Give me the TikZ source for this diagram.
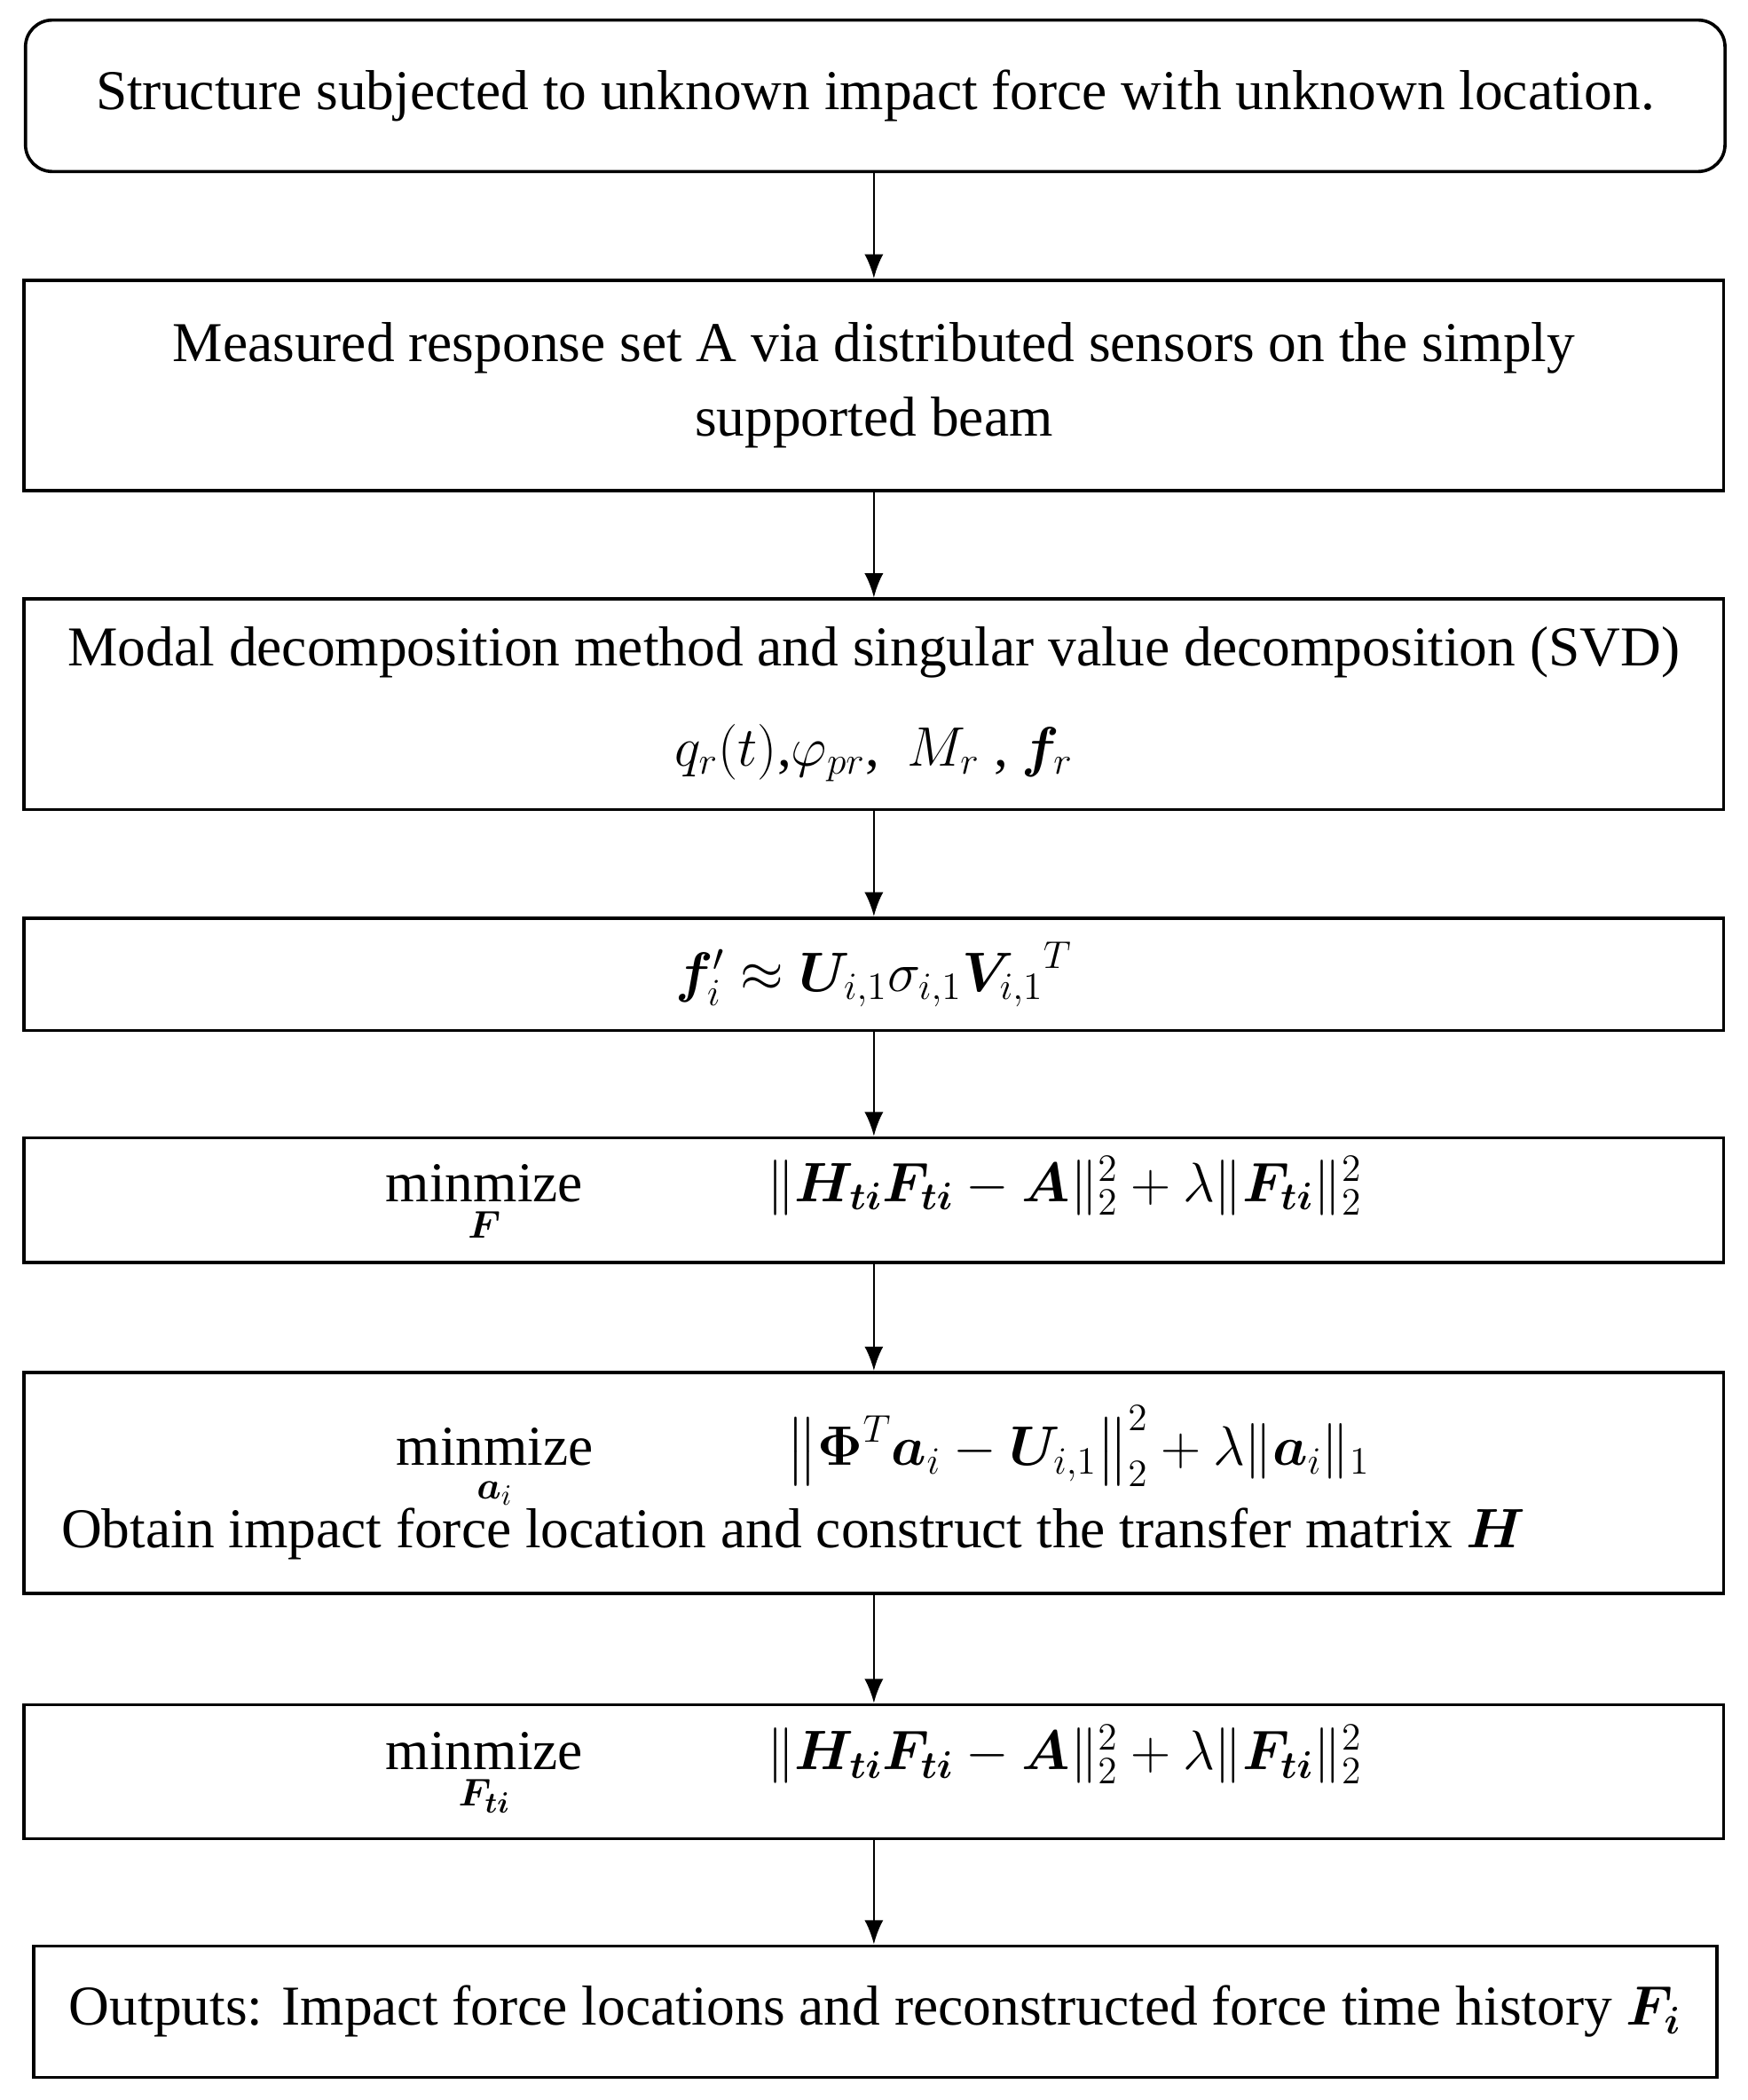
\documentclass[tikz,border=0pt]{standalone}
\usetikzlibrary{arrows.meta}
\usepackage{amsmath,bm}
\usepackage{fontspec}
\setmainfont{Liberation Serif}
\begin{document}
\begin{tikzpicture}[x=0.5pt,y=-0.5pt,
 box/.style={draw,line width=1.2pt,minimum width=634pt,align=center,font=\fontsize{21}{27.5}\selectfont,inner sep=0pt},
 arr/.style={-{Latex[length=9pt,width=7pt]},line width=0.8pt}]
\useasboundingbox (0,0) rectangle (1304,1567);
\node[box,rounded corners=10pt,minimum height=56.5pt] (b1) at (653,71.5) {Structure subjected to unknown impact force with unknown location.};
\node[box,minimum height=78.5pt] (b2) at (652,287.5) {Measured response set A via distributed sensors on the simply\\supported beam};
\node[box,minimum height=78.5pt] (b3) at (652,525.5) {Modal decomposition method and singular value decomposition (SVD)\\[10pt] $q_r(t)$,$\varphi_{pr}$,~ $M_r$ , $\bm f_r$};
\node[box,minimum height=42pt] (b4) at (652,727) {$\bm f_i'\approx \bm U_{i,1}\sigma_{i,1}{\bm V_{i,1}}^T$};
\node[box,minimum height=46.5pt] (b5) at (652,895.5) {$\underset{\bm F}{\text{minmize}}\qquad\quad\; \|\bm H_{\bm{ti}}\bm F_{\bm{ti}}-\bm A\|_2^2+\lambda\|\bm F_{\bm{ti}}\|_2^2$};
\node[box,minimum height=82.5pt,align=left] (b6) at (652,1106.5) {\hspace*{125pt}$\underset{\bm a_i}{\text{minmize}}\qquad\quad\; \left\|\bm\Phi^T\bm a_i-\bm U_{i,1}\right\|_2^2+\lambda\|\bm a_i\|_1$\\[-2pt] Obtain impact force location and construct the transfer matrix $\bm H$\hspace*{60pt}};
\node[box,minimum height=50pt] (b7) at (652,1322) {$\underset{\bm F_{\bm{ti}}}{\text{minmize}}\qquad\quad\; \|\bm H_{\bm{ti}}\bm F_{\bm{ti}}-\bm A\|_2^2+\lambda\|\bm F_{\bm{ti}}\|_2^2$};
\node[box,minimum width=628pt,minimum height=49pt] (b8) at (653,1501) {Outputs: Impact force locations and reconstructed force time history $\bm F_{\bm i}$};
\foreach \a/\b in {b1/b2,b2/b3,b3/b4,b4/b5,b5/b6,b6/b7,b7/b8}
 \draw[arr] (\a.south-|652,0) -- (\b.north-|652,0);
\end{tikzpicture}
\end{document}
